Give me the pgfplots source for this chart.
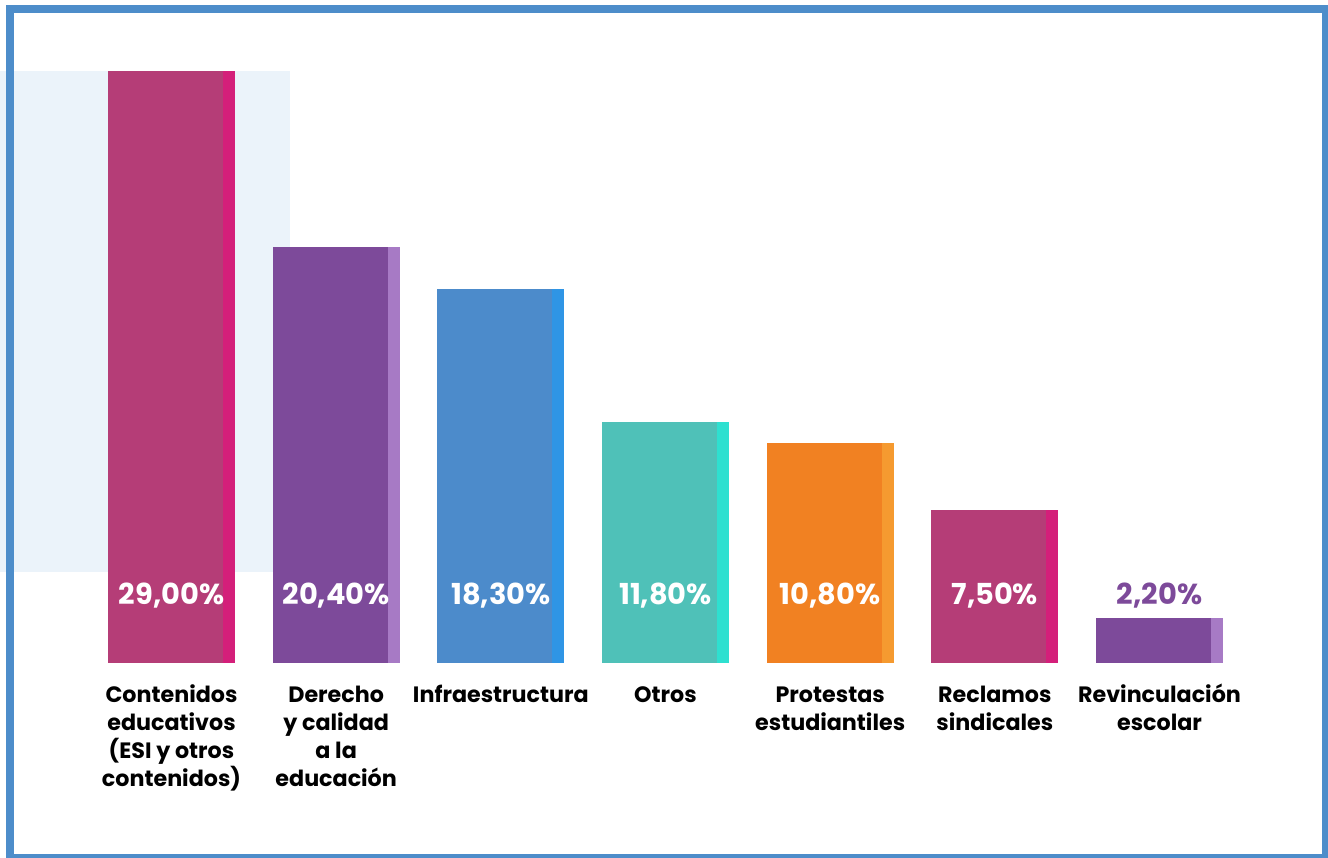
\documentclass[border=0pt]{standalone}
\usepackage{fontspec}
\setmainfont{Poppins}
\usepackage{pgfplots}
\pgfplotsset{compat=1.18}
\definecolor{frameblue}{HTML}{4D8DCA}
\definecolor{bgblue}{HTML}{EBF3FA}
\definecolor{magA}{HTML}{B53D77}
\definecolor{magB}{HTML}{D41F7A}
\definecolor{purA}{HTML}{7D4A9A}
\definecolor{purB}{HTML}{A77AC5}
\definecolor{bluA}{HTML}{4C8BCB}
\definecolor{bluB}{HTML}{2F95E5}
\definecolor{tealA}{HTML}{4FC1B8}
\definecolor{tealB}{HTML}{2EE0D0}
\definecolor{orA}{HTML}{F18122}
\definecolor{orB}{HTML}{F59A30}
\pgfplotsset{
  strip/.style={ybar, bar width=127bp, bar shift=0pt, draw=none, fill=#1},
  main/.style={ybar, bar width=115bp, bar shift=-6bp, draw=none, fill=#1},
}
\newcommand{\tl}{\rule{0pt}{24bp}}
\begin{document}
\begin{tikzpicture}[x=1bp,y=1bp]
\useasboundingbox (0,0) rectangle (1328,857);
\fill[bgblue] (0,285) rectangle (290,786);
\begin{axis}[
  at={(89.17bp,194bp)}, anchor=south west,
  scale only axis, width=1152.7bp, height=592bp,
  xmin=-0.5, xmax=6.5, ymin=0, ymax=29,
  clip=false,
  axis line style={draw=none}, tick style={draw=none},
  ytick=\empty,
  xtick={0,1,2,3,4,5,6},
  xticklabels={
    {\tl Contenidos\\educativos\\(ESI y otros\\contenidos)},
    {\tl Derecho\\y calidad\\a la\\educación},
    {\tl Infraestructura},
    {\tl Otros},
    {\tl Protestas\\estudiantiles},
    {\tl Reclamos\\sindicales},
    {\tl Revinculación\\escolar}},
  xticklabel style={anchor=north, align=center, yshift=-12bp,
    font=\fontsize{22.3}{28}\selectfont\bfseries, text=black},
]
\addplot[strip=magB] coordinates {(0,29.0)};
\addplot[main=magA] coordinates {(0,29.0)};
\addplot[strip=purB] coordinates {(1,20.4)};
\addplot[main=purA] coordinates {(1,20.4)};
\addplot[strip=bluB] coordinates {(2,18.3)};
\addplot[main=bluA] coordinates {(2,18.3)};
\addplot[strip=tealB] coordinates {(3,11.8)};
\addplot[main=tealA] coordinates {(3,11.8)};
\addplot[strip=orB] coordinates {(4,10.8)};
\addplot[main=orA] coordinates {(4,10.8)};
\addplot[strip=magB] coordinates {(5,7.5)};
\addplot[main=magA] coordinates {(5,7.5)};
\addplot[strip=purB] coordinates {(6,2.2)};
\addplot[main=purA] coordinates {(6,2.2)};
\addplot[only marks, mark=none, nodes near coords, point meta=explicit symbolic,
  nodes near coords align={center},
  every node near coord/.append style={anchor=center, text=white,
    font=\fontsize{29}{32}\selectfont\bfseries}]
  coordinates {(0,3.3) [29,00\%] (1,3.3) [20,40\%] (2,3.3) [18,30\%]
               (3,3.3) [11,80\%] (4,3.3) [10,80\%] (5,3.3) [7,50\%]};
\addplot[only marks, mark=none, nodes near coords, point meta=explicit symbolic,
  nodes near coords align={center},
  every node near coord/.append style={anchor=center, text=purA,
    font=\fontsize{29}{32}\selectfont\bfseries}]
  coordinates {(6,3.3) [2,20\%]};
\end{axis}
\draw[frameblue, line width=8] (10,-1) rectangle (1326,848);
\end{tikzpicture}
\end{document}
